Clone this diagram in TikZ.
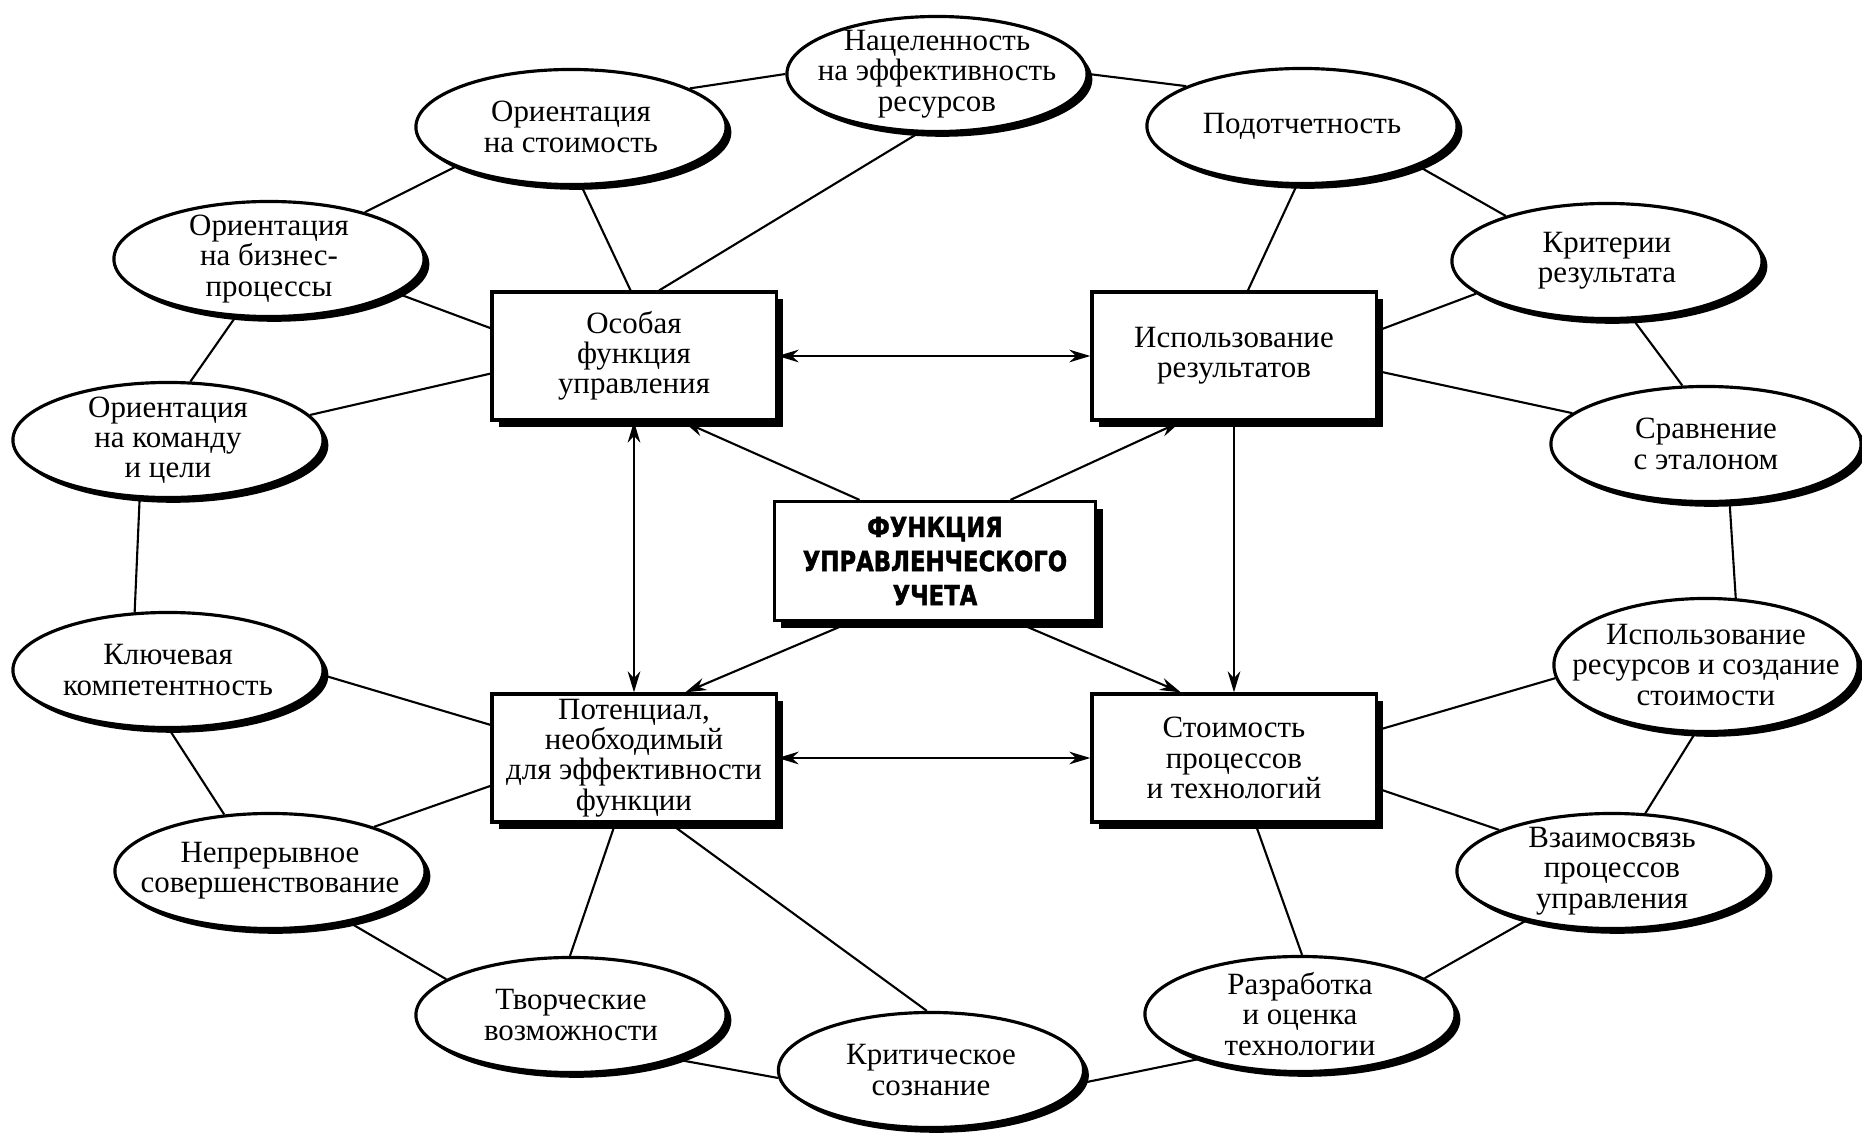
\documentclass[tikz,border=0pt]{standalone}
\usepackage{fontspec}
\setmainfont{Liberation Serif}
\newfontfamily\headfont[FakeStretch=0.82,FakeBold=1.5]{DejaVu Sans}
\usepackage{tikz}
\usetikzlibrary{arrows.meta,shapes,shadows,calc,positioning}

\begin{document}
\begin{tikzpicture}[x=0.01cm, y=-0.01cm,
	txt/.style={font=\fontsize{8.8}{8.6}\selectfont, align=center},
	oval/.style={txt, ellipse, draw, line width=0.9pt, fill=white,
		minimum width=3.1cm, minimum height=1.15cm, inner xsep=-0.45cm, inner ysep=-0.12cm,
		drop shadow={shadow xshift=1.5pt, shadow yshift=-1.5pt, fill=black, opacity=1}},
	block/.style={txt, rectangle, draw, line width=0.9pt, fill=white,
		minimum width=2.84cm, minimum height=1.28cm, inner sep=1pt,
		drop shadow={shadow xshift=2pt, shadow yshift=-2pt, fill=black, opacity=1}},
	link/.style={line width=0.6pt},
	arr/.style={line width=0.6pt, -{Stealth[length=6pt,width=3.6pt]}},
	darr/.style={line width=0.6pt, {Stealth[length=6pt,width=3.6pt]}-{Stealth[length=6pt,width=3.6pt]}}]

	\useasboundingbox (0,0) rectangle (1862,1133);

	% centre and the four boxes
	\node[block, minimum width=3.21cm, minimum height=1.19cm,
		font=\headfont\bfseries\fontsize{7.9}{9.7}\selectfont] (func) at (935,561)
		{ФУНКЦИЯ\\УПРАВЛЕНЧЕСКОГО\\УЧЕТА};
	\node[block] (osob) at (634,356) {Особая\\функция\\управления};
	\node[block] (ispres) at (1234,356) {Использование\\результатов};
	\node[block] (potent) at (634,758) {Потенциал,\\необходимый\\для эффективности\\функции};
	\node[block] (stoim) at (1234,758) {Стоимость\\процессов\\и технологий};

	% the ring
	\node[oval, minimum width=3.0cm] (nacel) at (937,74) {Нацеленность\\на эффективность\\ресурсов};
	\node[oval] (orstoim) at (571,127) {Ориентация\\на стоимость};
	\node[oval] (orbiz) at (269,259) {Ориентация\\на бизнес-\\процессы};
	\node[oval] (orkom) at (168,440) {Ориентация\\на команду\\и цели};
	\node[oval] (klyuch) at (168,670) {Ключевая\\компетентность};
	\node[oval] (nepr) at (270,871) {Непрерывное\\совершенствование};
	\node[oval] (tvorch) at (571,1015) {Творческие\\возможности};
	\node[oval, minimum width=3.05cm] (kritsoz) at (931,1070) {Критическое\\сознание};
	\node[oval] (razrab) at (1300,1014) {Разработка\\и оценка\\технологии};
	\node[oval] (vzaim) at (1612,871) {Взаимосвязь\\процессов\\управления};
	\node[oval, minimum width=3.04cm, minimum height=1.33cm] (ispresurs) at (1706,665)
		{Использование\\ресурсов и создание\\стоимости};
	\node[oval] (sravn) at (1706,444) {Сравнение\\с эталоном};
	\node[oval] (krit) at (1607,261) {Критерии\\результата};
	\node[oval] (podotch) at (1302,126) {Подотчетность};

	\draw[link] (orstoim.18) -- (nacel.180);
	\draw[link] (nacel.0) -- (podotch.161);
	\draw[link] (podotch.-19) -- (krit.156);
	\draw[link] (krit.-66) -- (sravn.112);
	\draw[link] (sravn.-68) -- (ispresurs.66);
	\draw[link] (ispresurs.-99) -- (vzaim.60);
	\draw[link] (vzaim.-150) -- (razrab.16);
	\draw[link] (razrab.-156) -- (kritsoz.-5);
	\draw[link] (kritsoz.183) -- (tvorch.-23);
	\draw[link] (tvorch.164) -- (nepr.-33);
	\draw[link] (nepr.129) -- (klyuch.-89);
	\draw[link] (klyuch.120) -- (orkom.-116);
	\draw[link] (orkom.69) -- (orbiz.-120);
	\draw[link] (orbiz.26) -- (orstoim.-161);

	% spokes
	\draw[link] (osob.93) -- (orstoim.-80);
	\draw[link] (osob.69) -- (nacel.-107);
	\draw[link] (osob.169.5) -- (orbiz.-15);
	\draw[link] (osob.187) -- (orkom.10);
	\draw[link] (ispres.78) -- (podotch.-95);
	\draw[link] (ispres.10) -- (krit.-166);
	\draw[link] (ispres.-6) -- (sravn.167);
	\draw[link] (potent.167.5) -- (klyuch.-2);
	\draw[link] (potent.191) -- (nepr.23);
	\draw[link] (potent.-106) -- (tvorch.91);
	\draw[link] (potent.-61.5) -- (kritsoz.94);
	\draw[link] (stoim.11.6) -- (ispresurs.185);
	\draw[link] (stoim.-12.4) -- (vzaim.160);
	\draw[link] (stoim.-72) -- (razrab.88);

	% arrows
	\draw[arr] (func.141) -- (osob.-53);
	\draw[arr] (func.39.6) -- (ispres.-129);
	\draw[arr] (func.-144) -- (potent.52);
	\draw[arr] (func.-37) -- (stoim.129);
	\draw[darr] (osob.east) -- (ispres.west);
	\draw[darr] (potent.east) -- (stoim.west);
	\draw[darr] (osob.south) -- (potent.north);
	\draw[arr] (ispres.south) -- (stoim.north);

\end{tikzpicture}
\end{document}
